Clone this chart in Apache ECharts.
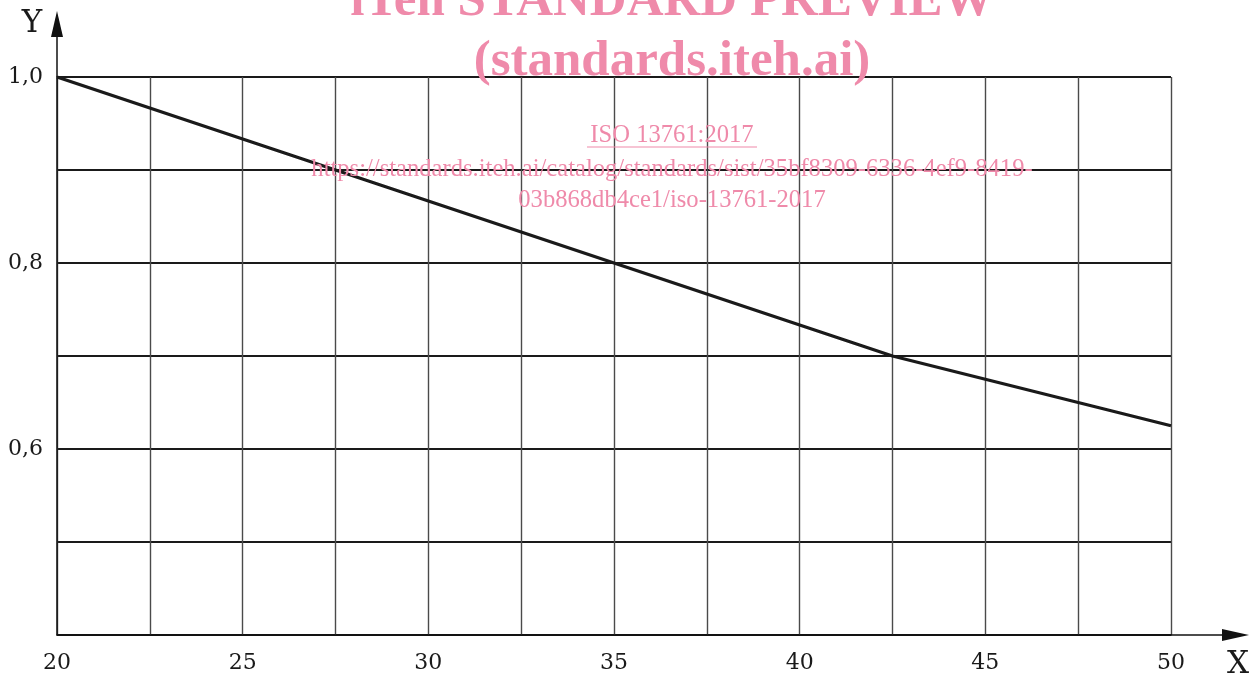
<!DOCTYPE html>
<html>
<head>
<meta charset="utf-8">
<script src="https://cdn.jsdelivr.net/npm/echarts@6/dist/echarts.min.js"></script>
<style>
html,body{margin:0;padding:0;background:#fff;}
#main{width:1251px;height:680px;}
</style>
</head>
<body>
<div id="main"></div>
<script>
// Data
const curveX = [20, 42.5, 50];
const curveY = [1.0, 0.7, 0.625];
const xTickValues = [20, 25, 30, 35, 40, 45, 50];
const xTickLabels = ['20', '25', '30', '35', '40', '45', '50'];
const yTickValues = [0.6, 0.8, 1.0];
const yTickLabels = ['0,6', '0,8', '1,0'];
const xRange = [20, 50, 2.5];
const yRange = [0.4, 1.0, 0.1];
const watermarkLines = ['iTeh STANDARD PREVIEW', '(standards.iteh.ai)', 'ISO 13761:2017',
  'https://standards.iteh.ai/catalog/standards/sist/35bf8309-6336-4ef9-8419-', '03b868db4ce1/iso-13761-2017'];

const chart = echarts.init(document.getElementById('main'));
const font = 'DejaVu Serif';
const pink = '#ef8aaa';

function findLabel(vals, labels, v) {
  for (let i = 0; i < vals.length; i++) if (Math.abs(vals[i] - v) < 1e-6) return labels[i];
  return '';
}

chart.setOption({
  animation: false,
  backgroundColor: '#fff',
  grid: { left: 57, right: 80, top: 77, bottom: 45, containLabel: false, outerBoundsMode: 'none' },
  xAxis: {
    type: 'value', min: xRange[0], max: xRange[1], interval: xRange[2],
    axisLine: { show: true, onZero: false, lineStyle: { color: '#111', width: 1.5 } },
    axisTick: { show: false },
    axisLabel: { margin: 17, color: '#1a1a1a', fontFamily: font, fontSize: 22,
      formatter: v => findLabel(xTickValues, xTickLabels, v), showMinLabel: true, showMaxLabel: true },
    splitLine: { show: true, lineStyle: { color: '#4a4a4a', width: 1.4 } }
  },
  yAxis: {
    type: 'value', min: yRange[0], max: yRange[1], interval: yRange[2],
    axisLine: { show: true, onZero: false, lineStyle: { color: '#111', width: 1.5 } },
    axisTick: { show: false },
    axisLabel: { margin: 14, color: '#1a1a1a', fontFamily: font, fontSize: 22, lineHeight: 22, padding: [12, 0, 0, 0],
      formatter: v => findLabel(yTickValues, yTickLabels, v) },
    splitLine: { show: true, lineStyle: { color: '#1a1a1a', width: 2 } }
  },
  series: [{
    type: 'line', data: curveX.map((x, i) => [x, curveY[i]]),
    showSymbol: false, lineStyle: { color: '#1a1a1a', width: 3.3 }, z: 5
  }]
});

const o = chart.convertToPixel({ gridIndex: 0 }, [xRange[0], yRange[0]]);
const tr = chart.convertToPixel({ gridIndex: 0 }, [xRange[1], yRange[1]]);
const ax = o[0], ay = o[1];
const cx = (o[0] + tr[0]) / 2 + 58;

chart.setOption({
  graphic: [
    // axis extensions and arrows
    { type: 'line', shape: { x1: tr[0], y1: ay, x2: 1226, y2: ay }, style: { stroke: '#111', lineWidth: 1.5 } },
    { type: 'polygon', shape: { points: [[1222, ay - 6], [1249, ay], [1222, ay + 6]] }, style: { fill: '#111' } },
    { type: 'line', shape: { x1: ax, y1: tr[1], x2: ax, y2: 36 }, style: { stroke: '#111', lineWidth: 1.5 } },
    { type: 'polygon', shape: { points: [[ax - 6, 37], [ax, 11], [ax + 6, 37]] }, style: { fill: '#111' } },
    { type: 'text', x: 32, y: 24, style: { text: 'Y', font: '31px "DejaVu Serif"', fill: '#1a1a1a', align: 'center', verticalAlign: 'middle' } },
    { type: 'text', x: 1238, y: 665, style: { text: 'X', font: '31px "DejaVu Serif"', fill: '#1a1a1a', align: 'center', verticalAlign: 'middle' } },
    // watermark
    { type: 'text', x: cx, y: 2, z: 20, style: { text: watermarkLines[0], font: 'bold 51px "Liberation Serif"', fill: pink, align: 'center', verticalAlign: 'middle' } },
    { type: 'text', x: cx, y: 62, z: 20, style: { text: watermarkLines[1], font: 'bold 51px "Liberation Serif"', fill: pink, align: 'center', verticalAlign: 'middle' } },
    { type: 'text', x: cx, y: 136, z: 20, style: { text: watermarkLines[2], font: '24.6px "Liberation Serif"', fill: pink, align: 'center', verticalAlign: 'middle' } },
    { type: 'line', z: 20, shape: { x1: cx - 85, y1: 147, x2: cx + 85, y2: 147 }, style: { stroke: pink, lineWidth: 1.2 } },
    { type: 'text', x: cx, y: 170, z: 20, style: { text: watermarkLines[3], font: '24.6px "Liberation Serif"', fill: pink, align: 'center', verticalAlign: 'middle' } },
    { type: 'text', x: cx, y: 201, z: 20, style: { text: watermarkLines[4], font: '24.6px "Liberation Serif"', fill: pink, align: 'center', verticalAlign: 'middle' } }
  ]
});
</script>
</body>
</html>
